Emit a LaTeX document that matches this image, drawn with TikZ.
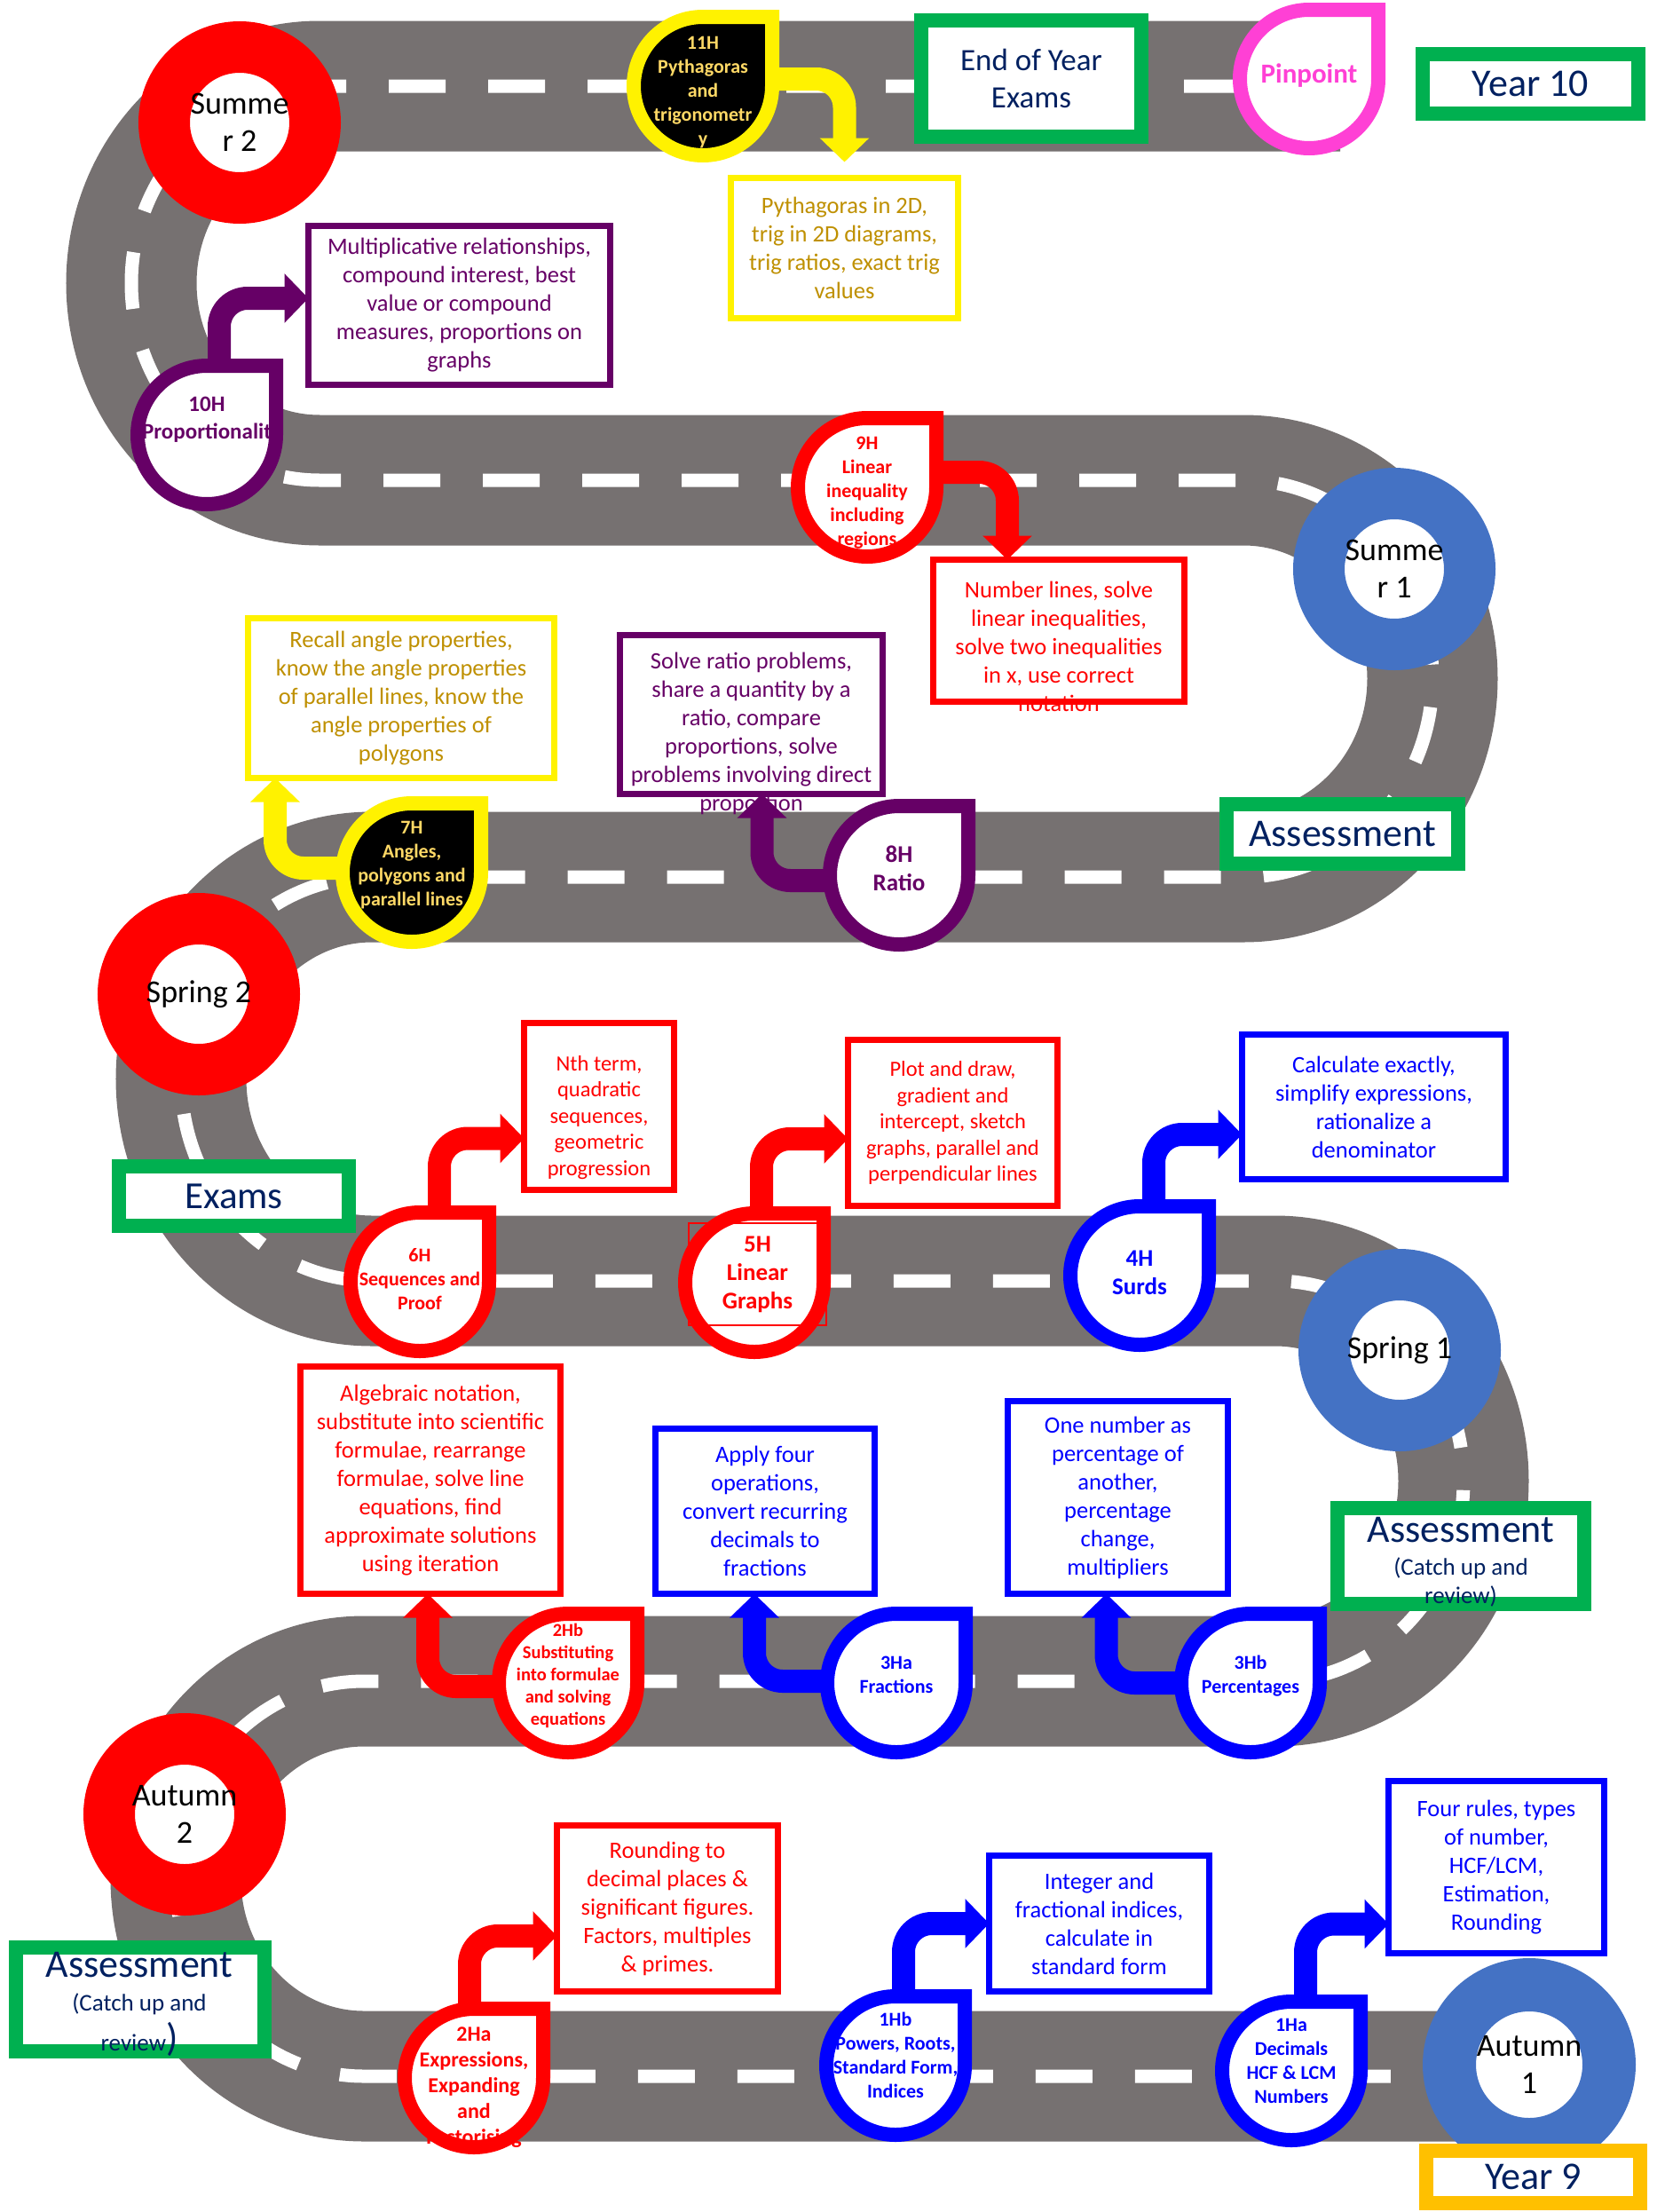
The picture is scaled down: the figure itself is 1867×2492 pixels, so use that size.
\documentclass[tikz,border=0pt]{standalone}
\usepackage{fontspec}
\setmainfont{Carlito}
\usetikzlibrary{arrows.meta}

\definecolor{roadgrey}{RGB}{118,113,113}
\definecolor{labelnavy}{RGB}{0,32,96}
\definecolor{textgold}{RGB}{191,144,0}
\definecolor{palegold}{RGB}{255,217,102}
\definecolor{plum}{RGB}{102,0,102}
\definecolor{ringblue}{RGB}{68,114,196}
\definecolor{pinpink}{RGB}{255,64,213}
\definecolor{labelgreen}{RGB}{0,176,80}
\definecolor{amber}{RGB}{255,192,0}

\begin{document}
\begin{tikzpicture}[
    x=1pt, y=1pt,
    road/.style={draw=roadgrey, line width=147pt},
    lane/.style={draw=white, line width=15pt, dash pattern=on 64pt off 48pt},
    ring/.style={circle, fill=white, line width=58pt, minimum size=170pt,
        inner sep=0pt, align=center, font=\fontsize{36}{42}\selectfont},
    termbox/.style={draw=labelgreen, line width=16pt, fill=white, inner sep=0pt,
        outer sep=0pt, text=labelnavy, align=center},
    termtext/.style={anchor=north, inner sep=0pt, text=labelnavy, align=center,
        font=\fontsize{27}{32}\selectfont},
    topic/.style={draw, line width=6.5pt, fill=white, inner sep=0pt,
        outer sep=0pt, align=center, font=\fontsize{26.5}{32}\selectfont},
    topictext/.style={inner sep=0pt, align=center,
        font=\fontsize{26.5}{32}\selectfont},
    smaller/.style={font=\fontsize{24.5}{29.5}\selectfont},
    turn/.style={line width=26pt, rounded corners=32pt,
        -{Triangle[width=54pt, length=27pt]}},
    droplet/.style={line width=16pt},
    pintext/.style={inner sep=0pt, align=center,
        font=\bfseries\fontsize{22}{27}\selectfont},
    bigpin/.style={font=\bfseries\fontsize{27}{32}\selectfont},
    pics/drop/.style={code={
        \path[pic actions] (0,78) -- (78,78) -- (78,0)
            arc[start angle=0, end angle=-270, radius=78] -- cycle;
    }}
]
    \useasboundingbox (0,0) rectangle (1867,-2492);

    % the road
    \draw[lane, preaction={road, solid}] (1510,-97) -- (360,-97)
        arc[start angle=90, end angle=270, x radius=212, y radius=222] -- (1401,-541)
        arc[start angle=90, end angle=-90, x radius=213, y radius=223.5] -- (419,-988)
        arc[start angle=90, end angle=270, x radius=215, y radius=227.5] -- (1437,-1443)
        arc[start angle=90, end angle=-90, x radius=212, y radius=225.5] -- (410,-1894)
        arc[start angle=90, end angle=270, x radius=212, y radius=222.5] -- (1723,-2339);

    % terms
    \node[ring, draw=red] (summer2) at (270,-138) {Summe\\r 2};
    \node[ring, draw=ringblue] (summer1) at (1571,-641) {Summe\\r 1};
    \node[ring, draw=red] (spring2) at (224,-1120) {Spring 2};
    \node[ring, draw=ringblue] (spring1) at (1577,-1521) {Spring 1};
    \node[ring, draw=red] (autumn2) at (208,-2044) {Autumn\\2};
    \node[ring, draw=ringblue, line width=60pt, minimum size=180pt] (autumn1) at (1723,-2326) {Autumn\\1};

    % labels
    \node[termbox, minimum width=248pt, minimum height=131pt,
        font=\fontsize{35}{42}\selectfont] (endyear) at (1162,-88.5) {End of Year\\Exams};
    \node[termbox, minimum width=243pt, minimum height=67pt,
        font=\fontsize{44}{50}\selectfont] (year10) at (1724.5,-94.5) {Year 10};
    \node[termbox, minimum width=261pt, minimum height=67pt,
        font=\fontsize{44}{50}\selectfont] (assess3) at (1512.5,-939.5) {Assessment};
    \node[termbox, minimum width=259pt, minimum height=67pt,
        font=\fontsize{43}{50}\selectfont] (exams) at (263.5,-1347.5) {Exams};
    \node[termbox, minimum width=278pt, minimum height=108pt] (assess2) at (1646,-1753) {};
    \node[termtext] (assess2t) at (1646,-1709)
        {{\fontsize{44}{44}\selectfont Assessment}\\[5pt](Catch up and\\review)};
    \node[termbox, minimum width=280pt, minimum height=117pt] (assess1) at (158,-2252.5) {};
    \node[termtext] (assess1t) at (157,-2199)
        {{\fontsize{44}{44}\selectfont Assessment}\\[6pt](Catch up and\\[8pt]review{\fontsize{44}{44}\selectfont)}};
    \node[termbox, draw=amber, minimum width=241pt, minimum height=59pt,
        font=\fontsize{44}{50}\selectfont] (year9) at (1727.5,-2452.5) {Year 9};

    % units on the road
    \coordinate (p11) at (792,-97);
    \coordinate (pp) at (1475,-89);
    \coordinate (p10) at (233,-490);
    \coordinate (p9) at (977,-549);
    \coordinate (p8) at (1013,-986);
    \coordinate (p7) at (464,-983);
    \coordinate (p6) at (473,-1444);
    \coordinate (p5) at (850,-1445);
    \coordinate (p4) at (1284,-1437);
    \coordinate (p2b) at (640,-1896);
    \coordinate (p3a) at (1010,-1896);
    \coordinate (p3b) at (1409,-1896);
    \coordinate (p2a) at (534,-2341);
    \coordinate (p1b) at (1009,-2327);
    \coordinate (p1a) at (1455,-2333);

    % topic boxes
    \node[topic, draw=yellow, text=textgold, minimum width=256pt, minimum height=158pt]
        (b11) at (951.5,-279.5) {Pythagoras in 2D,\\trig in 2D diagrams,\\trig ratios, exact trig\\values};
    \node[topic, draw=plum, text=plum, minimum width=340pt, minimum height=179pt]
        (b10) at (517.5,-344) {Multiplicative relationships,\\compound interest, best\\value or compound\\measures, proportions on\\graphs};
    \node[topic, draw=red, minimum width=283pt, minimum height=160pt] (b9) at (1193,-710.5) {};
    \node[topictext, text=red] (t9) at (1193,-728)
        {Number lines, solve\\linear inequalities,\\solve two inequalities\\in x, use correct\\notation};
    \node[topic, draw=plum, minimum width=296pt, minimum height=179pt] (b8) at (846.5,-805) {};
    \node[topictext, text=plum] (t8) at (846.5,-826)
        {Solve ratio problems,\\share a quantity by a\\ratio, compare\\proportions, solve\\problems involving direct\\proportion};
    \node[topic, draw=yellow, text=textgold, minimum width=345pt, minimum height=180pt]
        (b7) at (452,-786.5) {Recall angle properties,\\know the angle properties\\of parallel lines, know the\\angle properties of\\polygons};
    \node[topic, draw=red, minimum width=169pt, minimum height=188pt] (b6) at (675,-1246.5) {};
    \node[topictext, smaller, text=red] (t6) at (675,-1259)
        {Nth term,\\quadratic\\sequences,\\geometric\\progression};
    \node[topic, smaller, draw=red, text=red, minimum width=236pt, minimum height=187pt]
        (b5) at (1073.5,-1265) {Plot and draw,\\gradient and\\intercept, sketch\\graphs, parallel and\\perpendicular lines};
    \node[topic, draw=blue, text=blue, minimum width=297pt, minimum height=163pt]
        (b4) at (1548,-1247) {Calculate exactly,\\simplify expressions,\\rationalize a\\denominator};
    \node[topic, draw=red, text=red, minimum width=293pt, minimum height=256pt]
        (b2b) at (485,-1667.5) {Algebraic notation,\\substitute into scientific\\formulae, rearrange\\formulae, solve line\\equations, find\\approximate solutions\\using iteration};
    \node[topic, draw=blue, text=blue, minimum width=247pt, minimum height=186pt]
        (b3a) at (862,-1702.5) {Apply four\\operations,\\convert recurring\\decimals to\\fractions};
    \node[topic, draw=blue, text=blue, minimum width=248pt, minimum height=217pt]
        (b3b) at (1259.5,-1687) {One number as\\percentage of\\another,\\percentage\\change,\\multipliers};
    \node[topic, draw=red, text=red, minimum width=249pt, minimum height=187pt]
        (b2a) at (752,-2150) {Rounding to\\decimal places \&\\significant figures.\\Factors, multiples\\\& primes.};
    \node[topic, draw=blue, text=blue, minimum width=248pt, minimum height=153pt]
        (b1b) at (1238.5,-2167) {Integer and\\fractional indices,\\calculate in\\standard form};
    \node[topic, draw=blue, text=blue, minimum width=243pt, minimum height=194pt]
        (b1a) at (1686,-2103.5) {Four rules, types\\of number,\\HCF/LCM,\\Estimation,\\Rounding};

    % arrows from units to topics
    \draw[turn, yellow] ([yshift=8pt]p11) -| ([yshift=18pt]b11.north);
    \draw[turn, plum] ([xshift=14pt]p10) |- ([yshift=8pt]b10.west);
    \draw[turn, red] ([yshift=17pt]p9) -| ([xshift=-58pt]b9.north);
    \draw[turn, plum] ([yshift=-6pt]p8) -| ([xshift=12pt]b8.south);
    \draw[turn, yellow] ([yshift=5pt]p7) -| ([xshift=-142pt]b7.south);
    \draw[turn, red] ([xshift=22pt]p6) |- ([yshift=-36pt]b6.west);
    \draw[turn, red] ([xshift=8pt]p5) |- ([yshift=-18pt]b5.west);
    \draw[turn, blue] ([xshift=16pt]p4) |- ([yshift=-31pt]b4.west);
    \draw[turn, red] ([yshift=-4pt]p2b) -| ([xshift=-3pt]b2b.south);
    \draw[turn, blue] ([yshift=2pt]p3a) -| ([xshift=-12pt]b3a.south);
    \draw[turn, blue] (p3b) -| ([xshift=-13pt]b3b.south);
    \draw[turn, red] ([xshift=-5pt]p2a) |- ([yshift=-31pt]b2a.west);
    \draw[turn, blue] ([xshift=9pt]p1b) |- (b1b.west);
    \draw[turn, blue] ([xshift=16pt]p1a) |- ([yshift=-64pt]b1a.west);

    % pins
    \pic[droplet, draw=yellow, fill=black] at (p11) {drop};
    \pic[droplet, draw=pinpink, fill=white] at (pp) {drop};
    \pic[droplet, draw=plum, fill=white] at (p10) {drop};
    \pic[droplet, draw=red, fill=white] at (p9) {drop};
    \pic[droplet, draw=plum, fill=white] at (p8) {drop};
    \pic[droplet, draw=yellow, fill=black] at (p7) {drop};
    \pic[droplet, draw=red, fill=white] at (p6) {drop};
    \pic[droplet, draw=red, fill=white] at (p5) {drop};
    \pic[droplet, draw=blue, fill=white] at (p4) {drop};
    \pic[droplet, draw=red, fill=white] at (p2b) {drop};
    \pic[droplet, draw=blue, fill=white] at (p3a) {drop};
    \pic[droplet, draw=blue, fill=white] at (p3b) {drop};
    \pic[droplet, draw=red, fill=white] at (p2a) {drop};
    \pic[droplet, draw=blue, fill=white] at (p1b) {drop};
    \pic[droplet, draw=blue, fill=white] at (p1a) {drop};

    % unit titles
    \node[pintext, text=palegold] (n11) at (792,-104.5) {11H\\Pythagoras\\and\\trigonometr\\y};
    \node[pintext, text=pinpink, font=\bfseries\fontsize{31}{36}\selectfont] (npp) at (1475,-85) {Pinpoint};
    \node[pintext, text=plum, font=\bfseries\fontsize{25}{31}\selectfont] (n10) at (233,-473) {10H\\Proportionalit};
    \node[pintext, text=red] (n9) at (977,-555) {9H\\Linear\\inequality\\including\\regions};
    \node[pintext, bigpin, text=plum] (n8) at (1013,-978) {8H\\Ratio};
    \node[pintext, text=palegold] (n7) at (464,-974.5) {7H\\Angles,\\polygons and\\parallel lines};
    \node[pintext, text=red] (n6) at (473,-1441) {6H\\Sequences and\\Proof};
    \node[pintext, bigpin, text=red, draw=red, line width=2.5pt,
        minimum width=155pt, minimum height=115pt] (n5) at (853.5,-1435.5) {5H\\Linear\\Graphs};
    \node[pintext, bigpin, text=blue] (n4) at (1284,-1434) {4H\\Surds};
    \node[pintext, text=red, font=\bfseries\fontsize{20.5}{25}\selectfont] (n2b) at (640,-1888)
        {2Hb\\Substituting\\into formulae\\and solving\\equations};
    \node[pintext, text=blue] (n3a) at (1010,-1887) {3Ha\\Fractions};
    \node[pintext, text=blue] (n3b) at (1409,-1888.5) {3Hb\\Percentages};
    \node[pintext, text=red, font=\bfseries\fontsize{24}{29}\selectfont] (n2a) at (534,-2352)
        {2Ha\\Expressions,\\Expanding\\and\\Factorising};
    \node[pintext, text=blue] (n1b) at (1009,-2315.5) {1Hb\\Powers, Roots,\\Standard Form,\\Indices};
    \node[pintext, text=blue] (n1a) at (1455,-2321.5) {1Ha\\Decimals\\HCF \& LCM\\Numbers};
\end{tikzpicture}
\end{document}
